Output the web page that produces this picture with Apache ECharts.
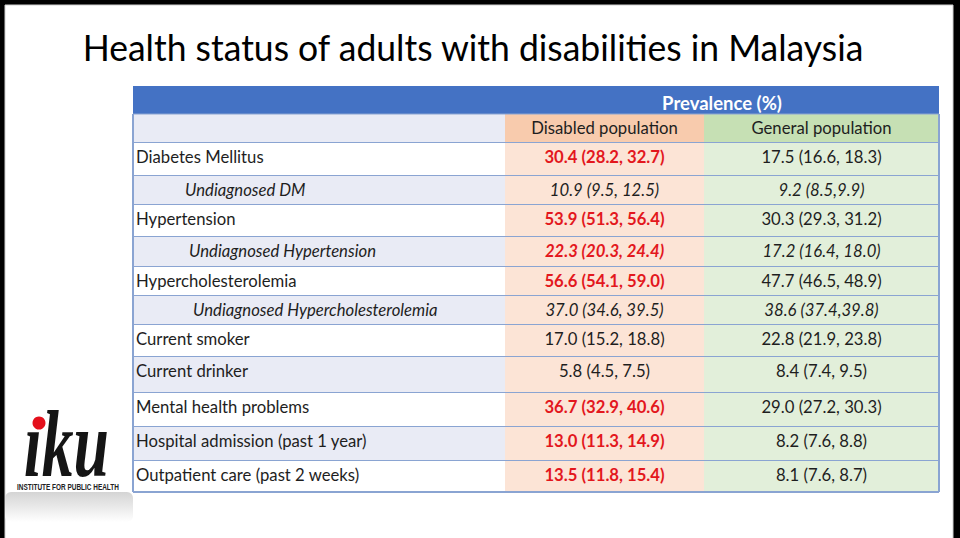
<!DOCTYPE html>
<html>
<head>
<meta charset="utf-8">
<script src="https://cdn.jsdelivr.net/npm/echarts@6/dist/echarts.min.js"></script>
<style>
html,body{margin:0;padding:0;background:#000;}
#chart{width:960px;height:538px;}
</style>
</head>
<body>
<div id="chart"></div>
<script>
// ---------- data ----------
const titleText = 'Health status of adults with disabilities in Malaysia';
const groupHeader = 'Prevalence (%)';
const columnHeaders = ['Disabled population', 'General population'];
const categories = [
  'Diabetes Mellitus',
  'Undiagnosed DM',
  'Hypertension',
  'Undiagnosed Hypertension',
  'Hypercholesterolemia',
  'Undiagnosed Hypercholesterolemia',
  'Current smoker',
  'Current drinker',
  'Mental health problems',
  'Hospital admission (past 1 year)',
  'Outpatient care (past 2 weeks)'
];
const isSubRow = [false, true, false, true, false, true, false, false, false, false, false];
const disabledEst = [30.4, 10.9, 53.9, 22.3, 56.6, 37.0, 17.0, 5.8, 36.7, 13.0, 13.5];
const disabledLo  = [28.2,  9.5, 51.3, 20.3, 54.1, 34.6, 15.2, 4.5, 32.9, 11.3, 11.8];
const disabledHi  = [32.7, 12.5, 56.4, 24.4, 59.0, 39.5, 18.8, 7.5, 40.6, 14.9, 15.4];
const generalEst  = [17.5,  9.2, 30.3, 17.2, 47.7, 38.6, 22.8, 8.4, 29.0, 8.2, 8.1];
const generalLo   = [16.6,  8.5, 29.3, 16.4, 46.5, 37.4, 21.9, 7.4, 27.2, 7.6, 7.6];
const generalHi   = [18.3,  9.9, 31.2, 18.0, 48.9, 39.8, 23.8, 9.5, 30.3, 8.8, 8.7];
const disabledHigher = [true, false, true, true, true, false, false, false, true, true, true];
const generalNoSpace = [false, true, false, false, false, true, false, false, false, false, false];

// ---------- layout / style ----------
const colEdges = [0, 372, 571, 806];
const rowHeights = [28, 29, 33, 29, 32, 30, 29, 29, 32, 36, 34, 34, 31];
const rowEdges = [0];
rowHeights.forEach(h => rowEdges.push(rowEdges[rowEdges.length - 1] + h));
const subIndent = [0, 52, 0, 56, 0, 60, 0, 0, 0, 0, 0];
const FONT = 'Lato';
const FS = 16.7;
const C = {
  blue: '#4472c4', lav: '#e9ebf5', white: '#ffffff',
  peach: '#fce4d6', peachHead: '#f8cbad', green: '#e2efda', greenHead: '#c6e0b4',
  line: '#8aa4d2', text: '#1e1e1e', red: '#e3171d'
};

function fmt(v) { return v.toFixed(1); }
function ci(e, l, h, tight) { return fmt(e) + ' (' + fmt(l) + (tight ? ',' : ', ') + fmt(h) + ')'; }

// ---------- cells ----------
const cells = [];
cells.push({ value: [0, 1, 0], fill: C.blue, text: '' });
cells.push({ value: [1, 3, 0], fill: C.blue, text: groupHeader, color: '#fff', weight: 'bold', center: true, size: 18.5 });
cells.push({ value: [0, 1, 1], fill: C.lav, text: '' });
cells.push({ value: [1, 2, 1], fill: C.peachHead, text: columnHeaders[0], color: C.text, center: true });
cells.push({ value: [2, 3, 1], fill: C.greenHead, text: columnHeaders[1], color: C.text, center: true });
categories.forEach((name, i) => {
  const r = i + 2;
  const it = isSubRow[i] ? 'italic' : 'normal';
  cells.push({ value: [0, 1, r], fill: (i % 2 === 0) ? C.white : C.lav, text: name, color: C.text,
               italic: it, indent: isSubRow[i] ? subIndent[i] : 3 });
  cells.push({ value: [1, 2, r], fill: C.peach, text: ci(disabledEst[i], disabledLo[i], disabledHi[i], false),
               color: disabledHigher[i] ? C.red : C.text, weight: disabledHigher[i] ? 'bold' : 'normal',
               italic: it, center: true });
  cells.push({ value: [2, 3, r], fill: C.green, text: ci(generalEst[i], generalLo[i], generalHi[i], generalNoSpace[i]),
               color: C.text, italic: it, center: true });
});

function renderCell(params, api) {
  const c0 = api.value(0), c1 = api.value(1), r = api.value(2);
  const cell = cells[params.dataIndex];
  const p0 = api.coord([colEdges[c0], rowEdges[r]]);
  const p1 = api.coord([colEdges[c1], rowEdges[r + 1]]);
  const x = p0[0], y = p0[1], w = p1[0] - p0[0], h = p1[1] - p0[1];
  const children = [{ type: 'rect', shape: { x: x, y: y, width: w, height: h }, style: { fill: cell.fill } }];
  if (r >= 1) {
    children.push({ type: 'line', shape: { x1: x, y1: y + h, x2: x + w, y2: y + h }, style: { stroke: C.line, lineWidth: 2 } });
    if (c0 === 0) children.push({ type: 'line', shape: { x1: x, y1: y, x2: x, y2: y + h }, style: { stroke: C.line, lineWidth: 2 } });
    if (c1 === 3) children.push({ type: 'line', shape: { x1: x + w, y1: y, x2: x + w, y2: y + h }, style: { stroke: C.line, lineWidth: 2 } });
  }
  if (r === 1) {
    children.push({ type: 'line', shape: { x1: x, y1: y, x2: x + w, y2: y }, style: { stroke: C.line, lineWidth: 1 } });
  }
  if (cell.text) {
    children.push({
      type: 'text',
      x: cell.center ? x + w / 2 : x + cell.indent,
      y: r === 0 ? y + 17 : y + 14,
      style: {
        text: cell.text, fill: cell.color, fontFamily: FONT,
        fontSize: cell.size || FS, fontWeight: cell.weight || 'normal', fontStyle: cell.italic || 'normal',
        align: cell.center ? 'center' : 'left', verticalAlign: 'middle'
      }
    });
  }
  return { type: 'group', children: children };
}

const chart = echarts.init(document.getElementById('chart'), null, { renderer: 'svg' });
chart.setOption({
  backgroundColor: '#000',
  animation: false,
  grid: { left: 133, right: 21, top: 86, bottom: 46 },
  xAxis: { type: 'value', min: 0, max: colEdges[3], show: false },
  yAxis: { type: 'value', min: 0, max: rowEdges[rowEdges.length - 1], inverse: true, show: false },
  graphic: [
    { type: 'rect', z: -10, shape: { x: 5, y: 5, width: 948, height: 540 }, style: { fill: '#fff', stroke: '#d0d0d0', lineWidth: 1 } },
    { type: 'text', z: 10, x: 473, y: 47, scaleX: 0.96,
      style: { text: titleText, fontFamily: FONT, fontSize: 37, fill: '#000', align: 'center', verticalAlign: 'middle' } },
    { type: 'rect', z: 10, shape: { x: 5, y: 492, width: 128, height: 30, r: 6 },
      style: { fill: { type: 'linear', x: 0, y: 0, x2: 0, y2: 1,
        colorStops: [{ offset: 0, color: '#d4d4d4' }, { offset: 1, color: '#ffffff' }] } } },
    { type: 'text', z: 11, x: 24, y: 444, scaleX: 0.67,
      style: { text: '\u0131ku', fontFamily: 'Liberation Serif', fontWeight: 'bold', fontStyle: 'italic',
               fontSize: 95, fill: '#151515', align: 'left', verticalAlign: 'middle' } },
    { type: 'circle', z: 12, shape: { cx: 39, cy: 423, r: 6.5 }, style: { fill: '#e4101c' } },
    { type: 'text', z: 11, x: 17, y: 487, scaleX: 0.76,
      style: { text: 'INSTITUTE FOR PUBLIC HEALTH', fontFamily: 'Liberation Sans', fontWeight: 'bold',
               fontSize: 8.5, fill: '#222', align: 'left', verticalAlign: 'middle' } }
  ],
  series: [{
    type: 'custom',
    renderItem: renderCell,
    data: cells.map(c => c.value),
    encode: { x: [0, 1], y: 2 },
    silent: true
  }]
});
</script>
</body>
</html>
